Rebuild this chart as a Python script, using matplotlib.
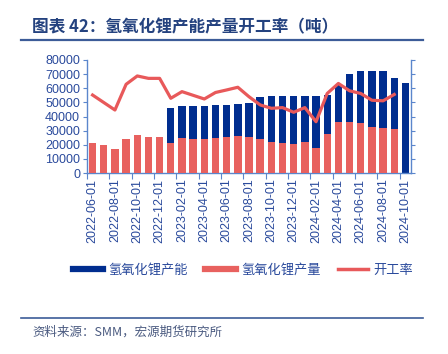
import numpy as np
import matplotlib
matplotlib.use('Agg')
import matplotlib.pyplot as plt
from matplotlib.lines import Line2D

plt.rcParams['font.family'] = ['Liberation Sans', 'Noto Sans CJK SC', 'DejaVu Sans']

nan = np.nan

# 月份 2022-06 .. 2024-10
months = ['2022-06-01', '2022-07-01', '2022-08-01', '2022-09-01', '2022-10-01',
          '2022-11-01', '2022-12-01', '2023-01-01', '2023-02-01', '2023-03-01',
          '2023-04-01', '2023-05-01', '2023-06-01', '2023-07-01', '2023-08-01',
          '2023-09-01', '2023-10-01', '2023-11-01', '2023-12-01', '2024-01-01',
          '2024-02-01', '2024-03-01', '2024-04-01', '2024-05-01', '2024-06-01',
          '2024-07-01', '2024-08-01', '2024-09-01', '2024-10-01']

capacity = [nan, nan, nan, nan, nan, nan, nan,
            45800, 47200, 47200, 47700, 48000, 48200, 48700, 49900,
            53900, 54800, 54800, 54800,
            54800, 54800, 55200, 62000, 69900, 72200, 72200, 72200, 67000, 63500]

production = [21500, 19800, 17000, 23800, 26700, 25700, 25700,
              21500, 24600, 23800, 24100, 24900, 25700, 26200, 25500,
              23900, 22200, 21300, 20300,
              22200, 17700, 27400, 36100, 36100, 35200, 32600, 31900, 30900, nan]

rate = [55.2, 49.9, 44.6, 62.8, 68.7, 67.0, 67.0,
        52.9, 57.6, 55.0, 52.4, 57.0, 58.8, 60.7, 54.0,
        48.2, 45.8, 46.3, 43.0,
        46.3, 36.3, 56.3, 63.4, 58.2, 56.3, 51.5, 51.1, 55.6, nan]

labels = ['氢氧化锂产能', '氢氧化锂产量', '开工率']

c_cap = '#002D8F'
c_prod = '#E8615F'
c_rate = '#E8595A'
c_axis = '#5B86CC'
c_text = '#2A4A9C'
c_title = '#24427F'

fig = plt.figure(figsize=(4.48, 3.54), dpi=100)
ax = fig.add_axes([87 / 448, 1 - 173 / 354, (411 - 87) / 448, (173 - 60) / 354])

x = np.arange(len(months))
ax.bar(x, capacity, width=0.66, color=c_cap, zorder=2)
ax.bar(x, production, width=0.66, color=c_prod, zorder=3)

ax.set_xlim(-0.5, len(months) - 0.5)
ax.set_ylim(0, 80000)
ax.set_yticks(np.arange(0, 80001, 10000))

ax2 = ax.twinx()
ax2.plot(x, np.array(rate) / 100, color=c_rate, lw=2.3, zorder=4)
ax2.set_ylim(0, 0.8)
ax2.set_yticks(np.arange(0, 0.81, 0.1))
ax2.tick_params(axis='y', labelright=False, colors=c_axis, length=3, width=0.8)

for a in (ax, ax2):
    a.spines['top'].set_visible(False)
    for s in ('left', 'right', 'bottom'):
        a.spines[s].set_color(c_axis)
        a.spines[s].set_linewidth(1.0)
ax.spines['right'].set_visible(False)
ax2.spines['left'].set_visible(False)
ax2.spines['bottom'].set_visible(False)

ax.tick_params(axis='y', colors=c_axis, labelcolor=c_text, labelsize=9,
               length=3, width=0.8, pad=2)
ax.set_xticks(np.arange(-0.5, len(months) - 1, 2))
ax.set_xticklabels([])
ax.tick_params(axis='x', which='major', colors=c_axis, length=4, width=0.8)
ax.set_xticks(x[::2], minor=True)
ax.set_xticklabels(months[::2], minor=True, rotation=90, fontsize=9, color=c_text)
ax.tick_params(axis='x', which='minor', length=0, pad=4)

handles = [Line2D([], [], color=c_cap, lw=4.5),
           Line2D([], [], color=c_prod, lw=4.5),
           Line2D([], [], color=c_rate, lw=2.5)]
fig.legend(handles, labels, loc='center', bbox_to_anchor=(243 / 448, 1 - 270 / 354),
           ncol=3, frameon=False, handlelength=2.3, handletextpad=0.4,
           columnspacing=1.3, prop={'family': 'Noto Sans CJK SC', 'size': 9.5},
           labelcolor=c_text)

# 标题和分隔线
fig.text(32 / 448, 1 - 27 / 354, '图表 42：氢氧化锂产能产量开工率（吨）',
         family='Noto Sans CJK SC', fontsize=12, fontweight='bold',
         color=c_title, va='center', ha='left')
fig.add_artist(Line2D([21 / 448, 423 / 448], [1 - 40 / 354] * 2,
                      color='#3C5C98', lw=1.6))
fig.add_artist(Line2D([21 / 448, 423 / 448], [1 - 318 / 354] * 2,
                      color='#3C5C98', lw=1.2))
fig.text(32 / 448, 1 - 332 / 354, '资料来源：SMM，宏源期货研究所',
         family=['Noto Sans CJK SC', 'DejaVu Sans'], fontsize=9, style='italic',
         color='#4A5A80', va='center', ha='left')

fig.savefig('out.png', dpi=100)
